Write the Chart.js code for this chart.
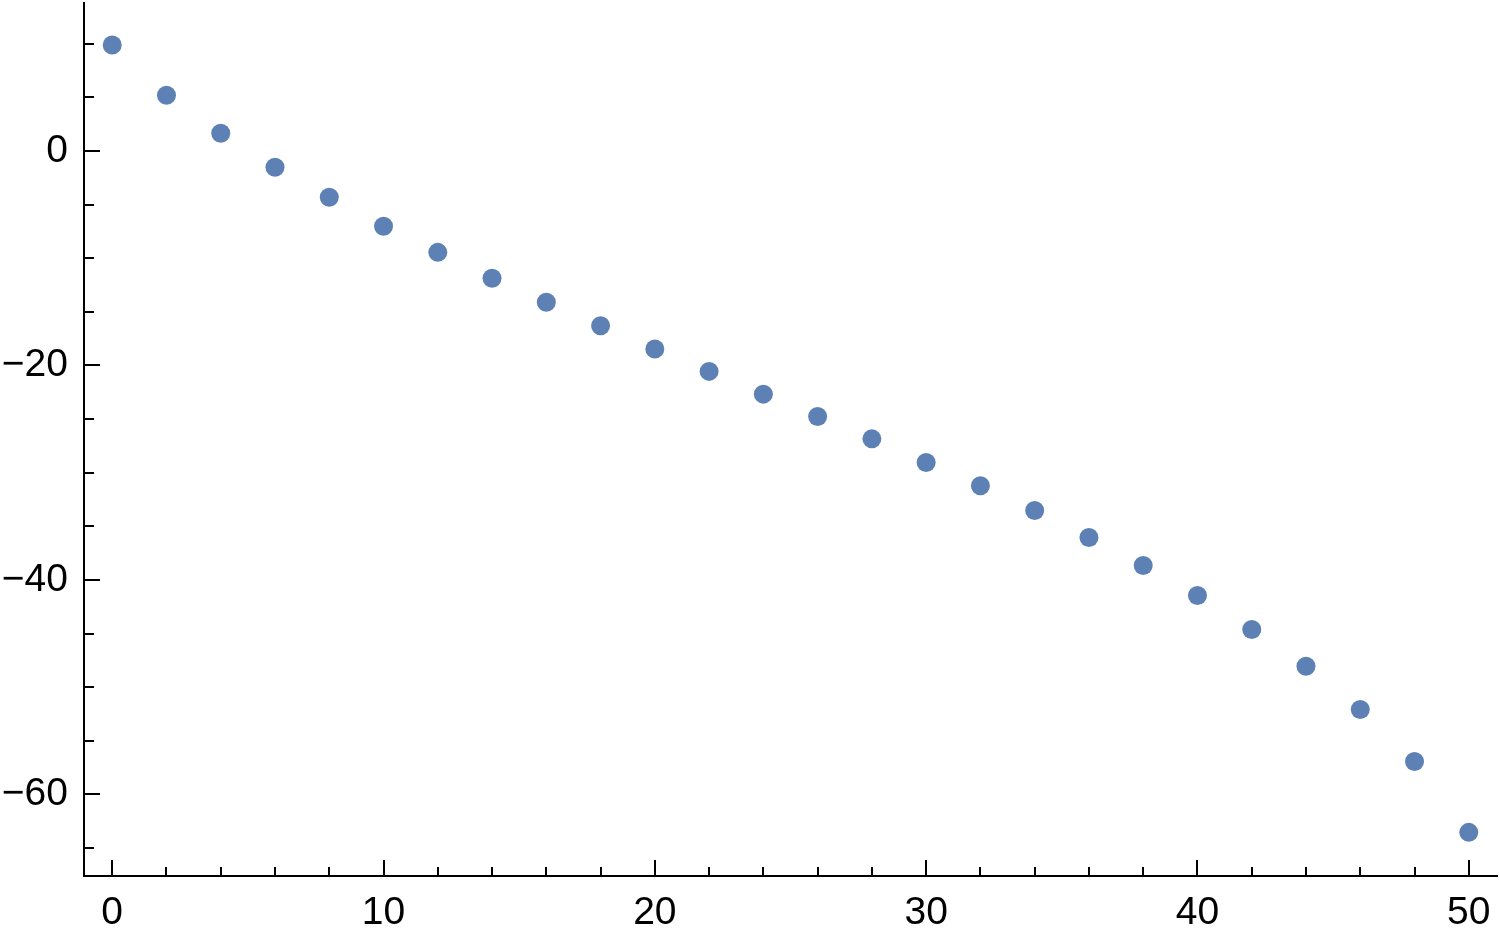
<!DOCTYPE html>
<html>
<head>
<meta charset="utf-8">
<script src="https://cdn.jsdelivr.net/npm/chart.js@4/dist/chart.umd.min.js"></script>
<style>
  html, body { margin: 0; padding: 0; background: #fff; }
  #wrap { width: 1500px; height: 936px; position: relative; }
</style>
</head>
<body>
<div id="wrap"><canvas id="grafico"></canvas></div>
<script>
// datos
const xValues = [0, 2, 4, 6, 8, 10, 12, 14, 16, 18, 20, 22, 24, 26, 28, 30, 32, 34, 36, 38, 40, 42, 44, 46, 48, 50];
const yValues = [9.89, 5.2, 1.65, -1.52, -4.32, -7.02, -9.45, -11.87, -14.11, -16.29, -18.47, -20.55, -22.67, -24.75,
  -26.84, -29.04, -31.22, -33.52, -36.04, -38.65, -41.45, -44.62, -48.04, -52.08, -56.93, -63.53];

// marcas de los ejes
const xMajorTicks = [0, 10, 20, 30, 40, 50];
const xMinorTicks = [2, 4, 6, 8, 12, 14, 16, 18, 22, 24, 26, 28, 32, 34, 36, 38, 42, 44, 46, 48];
const yMajorTicks = [0, -20, -40, -60];
const yMinorTicks = [10, 5, -5, -10, -15, -25, -30, -35, -45, -50, -55, -65];

const fmt = v => v < 0 ? '\u2212' + Math.abs(v) : String(v);

// dibuja las marcas hacia dentro, como en Mathematica
const tickMarks = {
  id: 'tickMarks',
  afterDraw(chart) {
    const { ctx, scales: { x, y }, chartArea } = chart;
    ctx.save();
    ctx.strokeStyle = '#000';
    ctx.lineWidth = 2;
    const drawX = (v, len) => {
      const px = Math.round(x.getPixelForValue(v));
      ctx.beginPath();
      ctx.moveTo(px, chartArea.bottom);
      ctx.lineTo(px, chartArea.bottom - len);
      ctx.stroke();
    };
    const drawY = (v, len) => {
      const py = Math.round(y.getPixelForValue(v));
      ctx.beginPath();
      ctx.moveTo(chartArea.left, py);
      ctx.lineTo(chartArea.left + len, py);
      ctx.stroke();
    };
    xMajorTicks.forEach(v => drawX(v, 16));
    xMinorTicks.forEach(v => drawX(v, 9));
    yMajorTicks.forEach(v => drawY(v, 16));
    yMinorTicks.forEach(v => drawY(v, 10));
    ctx.restore();
  }
};

const ctx = document.getElementById('grafico').getContext('2d');
new Chart(ctx, {
  type: 'scatter',
  data: {
    datasets: [{
      data: xValues.map((x, i) => ({ x, y: yValues[i] })),
      pointRadius: 9.5,
      pointHoverRadius: 9.5,
      pointBorderWidth: 0,
      backgroundColor: '#5e81b5',
      borderColor: '#5e81b5'
    }]
  },
  options: {
    responsive: true,
    maintainAspectRatio: false,
    animation: false,
    layout: { autoPadding: false, padding: { left: 0, right: 3, top: 3, bottom: 0 } },
    plugins: { legend: { display: false }, tooltip: { enabled: false } },
    scales: {
      x: {
        type: 'linear',
        min: -1.04,
        max: 51.04,
        afterFit(scale) {
          scale.height = 60;
          scale.paddingLeft = 0;
          scale.paddingRight = 0;
        },
        afterBuildTicks(scale) { scale.ticks = xMajorTicks.map(v => ({ value: v })); },
        grid: { display: false, drawTicks: false },
        border: { display: true, color: '#000', width: 2 },
        ticks: {
          includeBounds: false,
          padding: 14,
          color: '#000',
          font: { family: 'Liberation Sans, Arial, sans-serif', size: 39 },
          maxRotation: 0,
          callback: v => fmt(v)
        }
      },
      y: {
        type: 'linear',
        min: -67.6,
        max: 13.8,
        afterFit(scale) {
          scale.width = 84;
          scale.paddingTop = 0;
          scale.paddingBottom = 0;
        },
        afterBuildTicks(scale) { scale.ticks = yMajorTicks.map(v => ({ value: v })); },
        grid: { display: false, drawTicks: false },
        border: { display: true, color: '#000', width: 2 },
        ticks: {
          includeBounds: false,
          padding: 16,
          color: '#000',
          font: { family: 'Liberation Sans, Arial, sans-serif', size: 39 },
          callback: v => fmt(v)
        }
      }
    }
  },
  plugins: [tickMarks]
});
</script>
</body>
</html>
